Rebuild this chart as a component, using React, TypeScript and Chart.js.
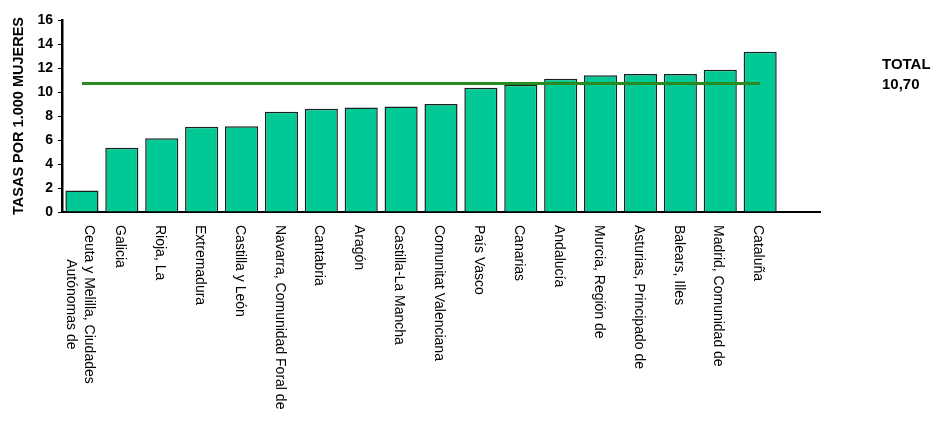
import React, { useEffect, useRef } from "react";
import { Chart, registerables } from "chart.js";

Chart.register(...registerables);

const categories: (string | string[])[] = [
  ["Ceuta y Melilla, Ciudades", "Autónomas de"],
  "Galicia",
  "Rioja, La",
  "Extremadura",
  "Castilla y León",
  "Navarra, Comunidad Foral de",
  "Cantabria",
  "Aragón",
  "Castilla-La Mancha",
  "Comunitat Valenciana",
  "País Vasco",
  "Canarias",
  "Andalucía",
  "Murcia, Región de",
  "Asturias, Principado de",
  "Balears, Illes",
  "Madrid, Comunidad de",
  "Cataluña",
  "",
];

const rates: (number | null)[] = [
  1.8, 5.35, 6.15, 7.1, 7.15, 8.35, 8.6, 8.7, 8.8, 9.0, 10.35, 10.6, 11.1, 11.4,
  11.5, 11.5, 11.85, 13.35, null,
];

const totalRate = 10.7;
const totalText = ["TOTAL", "10,70"];
const yTicks = [0, 2, 4, 6, 8, 10, 12, 14, 16];
const yTitle = "TASAS POR 1.000 MUJERES";

const FONT = '"Liberation Sans", Arial, sans-serif';

const labelPlugin = {
  id: "customLabels",
  afterDraw(chart: any) {
    const ctx = chart.ctx;
    const xs = chart.scales.x;
    ctx.save();
    ctx.fillStyle = "#000";
    ctx.font = `14px ${FONT}`;
    const lh = 18;
    (chart.data.labels as any[]).forEach((lab, i) => {
      const lines: string[] = Array.isArray(lab) ? lab : [lab];
      if (!lines.join("")) return;
      const x = xs.getPixelForValue(i) - 2;
      const maxW = Math.max(...lines.map((l) => ctx.measureText(l).width));
      ctx.save();
      ctx.translate(x, 225);
      ctx.rotate(Math.PI / 2);
      ctx.textAlign = "center";
      ctx.textBaseline = "middle";
      const n = lines.length;
      lines.forEach((l, k) => {
        const off = (k - (n - 1) / 2) * lh;
        ctx.fillText(l, maxW / 2, off);
      });
      ctx.restore();
    });
    ctx.font = `bold 15px ${FONT}`;
    ctx.textAlign = "left";
    ctx.textBaseline = "top";
    totalText.forEach((t, k) => ctx.fillText(t, 882, 57 + k * 20));
    ctx.restore();
  },
};

export default function App() {
  const ref = useRef<HTMLCanvasElement>(null);
  useEffect(() => {
    if (!ref.current) return;
    const chart = new Chart(ref.current, {
      type: "bar",
      data: {
        labels: categories as any,
        datasets: [
          {
            type: "line",
            data: rates.map((v) => (v === null ? null : totalRate)),
            borderColor: "#2A8A22",
            borderWidth: 3,
            pointRadius: 0,
            fill: false,
            order: 0,
            spanGaps: false,
          } as any,
          {
            type: "bar",
            data: rates,
            backgroundColor: "#00C996",
            borderColor: "#16221d",
            borderWidth: 1.5,
            barPercentage: 0.83,
            categoryPercentage: 1,
            order: 1,
          },
        ],
      },
      options: {
        responsive: false,
        animation: false,
        layout: { padding: { left: 0, top: 20, right: 120, bottom: 0 } },
        plugins: {
          legend: { display: false },
          tooltip: { enabled: false },
        },
        scales: {
          x: {
            ticks: { display: false },
            grid: { display: false },
            border: { display: true, color: "#000", width: 2 },
            afterFit: (s: any) => {
              s.height = 212;
            },
          },
          y: {
            min: 0,
            max: 16,
            afterBuildTicks: (s: any) => {
              s.ticks = yTicks.map((v) => ({ value: v }));
            },
            ticks: {
              color: "#000",
              font: { family: FONT, size: 14, weight: "bold" },
              padding: 5,
            },
            grid: {
              display: true,
              drawOnChartArea: false,
              drawTicks: true,
              tickLength: 4,
              color: "#000",
              tickColor: "#000",
            },
            border: { display: true, color: "#000", width: 2.5 },
            title: {
              display: true,
              text: yTitle,
              color: "#000",
              font: { family: FONT, size: 14.5, weight: "bold" },
              padding: { top: 10, bottom: 0 },
            },
            afterFit: (s: any) => {
              s.width = 62;
            },
          },
        },
      },
      plugins: [labelPlugin],
    });
    return () => chart.destroy();
  }, []);
  return (
    <div style={{ position: "absolute", left: 0, top: 0, width: 940, height: 424, background: "#fff" }}>
      <canvas ref={ref} width={940} height={424} style={{ display: "block" }} />
    </div>
  );
}
